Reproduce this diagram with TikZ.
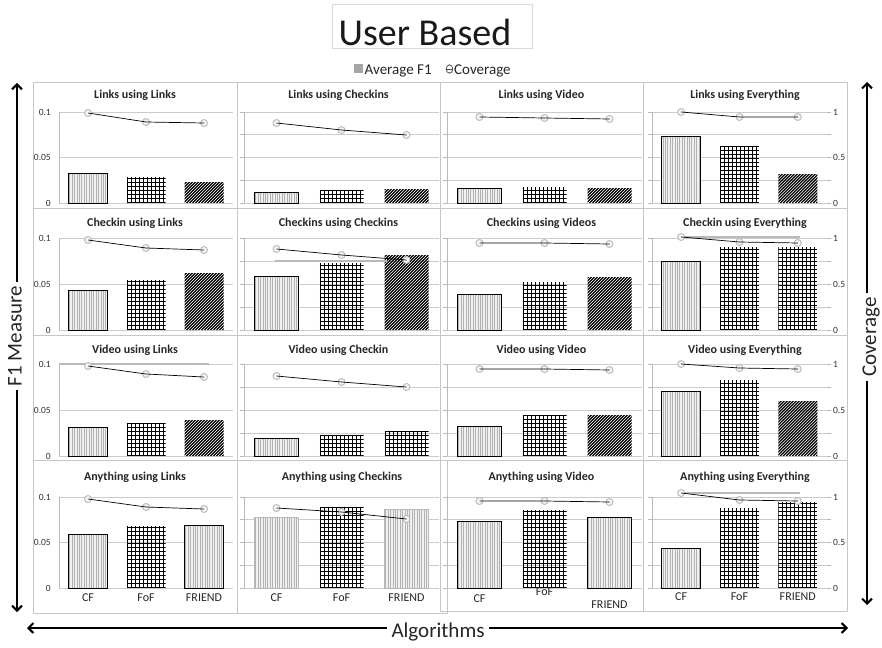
\documentclass[tikz,border=0pt]{standalone}
\usepackage{fontspec}
\setmainfont{Carlito}
\usetikzlibrary{arrows.meta}

\tikzset{
  panelbox/.style={draw=gray!45, line width=0.7pt},
  gridln/.style={draw=gray!40, line width=0.6pt},
  axisln/.style={draw=gray!55, line width=0.6pt},
  vline/.style={draw=gray!60, line width=0.55pt},
  hatchline/.style={draw=black, line width=0.85pt},
  diagline/.style={draw=black, line width=1.25pt},
  covline/.style={draw=black, line width=0.7pt},
  covmark/.style={draw=gray!55, fill=gray!8, line width=0.9pt},
  ghost/.style={draw=gray!55, line width=1.6pt},
  ptitle/.style={font=\fontsize{12}{14}\selectfont\bfseries, text=black!85, inner sep=1pt},
  ticklbl/.style={font=\fontsize{9.5}{11}\selectfont, text=black!80, inner sep=1pt},
  catlbl/.style={font=\fontsize{12}{14}\selectfont, text=black!85, inner sep=1pt},
  bigaxis/.style={line width=2pt, draw=black, -{Straight Barb[length=5pt,width=10pt]}},
  axlbl/.style={font=\fontsize{21}{24}\selectfont, text=black!85, inner sep=4pt},
}

% column geometry: plot left, category step, bar width
\newcommand\setcol[3]{\def\pL{#1}\def\pS{#2}\def\pW{#3}}
% row geometry: plot top, plot bottom
\newcommand\setrow[2]{\def\bT{#1}\def\bB{#2}}
% frame and title of one chart
\newcommand\panel[7]{%
  \draw[panelbox] (#1,#2) rectangle (#3,#4);
  \node[ptitle] (#7) at ({(#1+#3)/2},#5) {#6};}
% horizontal grid with #1 intervals
\newcommand\gridlines[1]{%
  \foreach \k in {0,...,#1}
    \draw[gridln] (\pL,{\bB-(\bB-\bT)*\k/#1}) -- ({\pL+3*\pS},{\bB-(\bB-\bT)*\k/#1});}
% left value axis with ticks
\newcommand\leftticks{%
  \draw[axisln] (\pL,\bT) -- (\pL,\bB);
  \foreach \k in {0,...,4}
    \draw[axisln] ({\pL-4},{\bB-(\bB-\bT)*\k/4}) -- (\pL,{\bB-(\bB-\bT)*\k/4});}
% F1 axis labels of the first column
\newcommand\fonelabels{%
  \draw[axisln] (\pL,\bT) -- (\pL,\bB);
  \node[ticklbl, anchor=east] at ({\pL-7},\bT) {0.1};
  \node[ticklbl, anchor=east] at ({\pL-7},{(\bT+\bB)/2}) {0.05};
  \node[ticklbl, anchor=east] at ({\pL-7},\bB) {0};}
% coverage axis labels of the last column
\newcommand\coverlabels{%
  \foreach \k in {0,...,4}
    \draw[axisln] ({\pL+3*\pS},{\bB-(\bB-\bT)*\k/4}) -- ({\pL+3*\pS+4},{\bB-(\bB-\bT)*\k/4});
  \node[ticklbl, anchor=west] at ({\pL+3*\pS+5},\bT) {1};
  \node[ticklbl, anchor=west] at ({\pL+3*\pS+5},{(\bT+\bB)/2}) {0.5};
  \node[ticklbl, anchor=west] at ({\pL+3*\pS+5},\bB) {0};}

% bar fills, drawn inside (\xa,\bB) -- (\xb,\yt)
\newcommand\barV{%
  \fill[gray!12] (\xa,\bB) rectangle (\xb,\yt);
  \begin{scope}
    \clip (\xa,\bB) rectangle (\xb,\yt);
    \foreach \s in {1.2,3.6,...,46} \draw[vline] ({\xa+\s},\bB) -- ({\xa+\s},\yt);
  \end{scope}
  \draw[black, line width=0.8pt] (\xa,\bB) rectangle (\xb,\yt);}
\newcommand\barVg{%
  \fill[gray!12] (\xa,\bB) rectangle (\xb,\yt);
  \begin{scope}
    \clip (\xa,\bB) rectangle (\xb,\yt);
    \foreach \s in {1.2,3.6,...,46} \draw[vline] ({\xa+\s},\bB) -- ({\xa+\s},\yt);
  \end{scope}
  \draw[gray!55, line width=0.8pt] (\xa,\bB) rectangle (\xb,\yt);}
\newcommand\barG{%
  \begin{scope}
    \clip (\xa,\bB) rectangle (\xb,\yt);
    \foreach \s in {0.5,4.5,...,48} \draw[hatchline] ({\xa+\s},\bB) -- ({\xa+\s},\yt);
    \foreach \s in {0.5,4.5,...,100} \draw[hatchline] (\xa,{\bB-\s}) -- (\xb,{\bB-\s});
  \end{scope}}
\newcommand\barD{%
  \begin{scope}
    \clip (\xa,\bB) rectangle (\xb,\yt);
    \foreach \s in {-100,-97,...,48} \draw[diagline] ({\xa+\s},\bB) -- ({\xa+\s+100},{\bB-100});
  \end{scope}}
% one bar: category, top y, fill kind (V, Vg, G, D)
\newcommand\onebar[3]{%
  \pgfmathsetmacro\xa{\pL+(#1-0.5)*\pS-\pW/2}%
  \pgfmathsetmacro\xb{\xa+\pW}%
  \def\yt{#2}%
  \csname bar#3\endcsname}
\newcommand\threebars[6]{\onebar{1}{#1}{#2}\onebar{2}{#3}{#4}\onebar{3}{#5}{#6}}
% coverage series
\newcommand\coverage[3]{%
  \foreach \c/\yy in {1/#1,2/#2,3/#3}
    \draw[covmark] ({\pL+(\c-0.5)*\pS},\yy) circle[radius=3.5];
  \draw[covline] ({\pL+0.5*\pS},#1) -- ({\pL+1.5*\pS},#2) -- ({\pL+2.5*\pS},#3);}
% category names under the bottom row
\newcommand\catlabels[3]{%
  \node[catlbl] at ({\pL+0.5*\pS},#1) {CF};
  \node[catlbl] at ({\pL+1.5*\pS},#2) {FoF};
  \node[catlbl] at ({\pL+2.5*\pS},#3) {FRIEND};}

\begin{document}
\begin{tikzpicture}[x=1pt,y=-1pt]
\useasboundingbox (0,0) rectangle (882,647);
\fill[white] (0,0) rectangle (882,647);

% heading and legend
\node[draw=gray!30, line width=0.6pt, minimum width=200pt, minimum height=44pt, inner sep=0] (ttlbox) at (432,26) {};
\node[anchor=base, font=\fontsize{38}{40}\selectfont, text=black!90, inner sep=0] (ttl) at (425,46) {User Based};
\fill[gray!70] (354,64) rectangle (363,73);
\node[anchor=base west, font=\fontsize{15}{17}\selectfont, text=black!85, inner sep=0] (lgf) at (364.5,75) {Average F1};
\draw[black!70, line width=0.8pt] (449.5,69) ellipse (3.3 and 4.2);
\draw[black!70, line width=0.8pt] (446.2,69) -- (452.8,69);
\node[anchor=base west, font=\fontsize{15}{17}\selectfont, text=black!85, inner sep=0] (lgc) at (454,75) {Coverage};

% ---------------- row 1 ----------------
\setrow{112}{203}
\setcol{59}{58}{39}
\panel{33}{82}{237}{208}{95}{Links using Links}{t11}
\gridlines{2}\fonelabels
\threebars{173}{V}{177}{G}{182}{D}
\coverage{113}{122}{123}

\setcol{244}{65}{44}
\panel{237}{82}{440}{208}{95}{Links using Checkins}{t12}
\gridlines{4}\leftticks
\threebars{192}{V}{190}{G}{189}{D}
\coverage{123}{130}{135}

\setcol{447}{65}{44}
\panel{440}{82}{643}{208}{95}{Links using Video}{t13}
\gridlines{4}\leftticks
\threebars{188}{V}{187}{G}{188}{D}
\coverage{117}{118}{119}

\setcol{652}{58.3}{39}
\panel{643}{82}{847}{208}{95}{Links using Everything}{t14}
\gridlines{4}\leftticks\coverlabels
\threebars{136}{V}{146}{G}{174}{D}
\coverage{112}{117}{117}

% ---------------- row 2 ----------------
\setrow{238}{330}
\setcol{59}{58}{39}
\panel{33}{208}{237}{335}{223}{Checkin using Links}{t21}
\gridlines{2}\fonelabels
\threebars{290}{V}{280}{G}{273}{D}
\coverage{240}{248}{250}

\setcol{244}{65}{44}
\panel{237}{208}{440}{335}{223}{Checkins using Checkins}{t22}
\gridlines{4}\leftticks
\threebars{276}{V}{263}{G}{255}{D}
\draw[ghost] (275,261) -- (387,261);
\coverage{249}{255}{260}

\setcol{447}{65}{44}
\panel{440}{208}{643}{335}{223}{Checkins using Videos}{t23}
\gridlines{4}\leftticks
\threebars{294}{V}{282}{G}{277}{D}
\coverage{243}{243}{244}

\setcol{652}{58.3}{39}
\panel{643}{208}{847}{335}{223}{Checkin using Everything}{t24}
\gridlines{4}\leftticks\coverlabels
\threebars{261}{V}{247}{G}{247}{G}
\draw[ghost] (681,237) -- (800,237);
\coverage{237}{242}{243}

% ---------------- row 3 ----------------
\setrow{364}{456}
\setcol{59}{58}{39}
\panel{33}{335}{237}{460}{350}{Video using Links}{t31}
\gridlines{2}\fonelabels
\threebars{427}{V}{423}{G}{420}{D}
\draw[ghost] (59,364) -- (209,364);
\coverage{366}{374}{377}

\setcol{244}{65}{44}
\panel{237}{335}{440}{460}{350}{Video using Checkin}{t32}
\gridlines{4}\leftticks
\threebars{438}{V}{435}{G}{431}{G}
\coverage{376}{382}{387}

\setcol{447}{65}{44}
\panel{440}{335}{643}{460}{350}{Video using Video}{t33}
\gridlines{4}\leftticks
\threebars{426}{V}{415}{G}{415}{D}
\coverage{369}{369}{370}

\setcol{652}{58.3}{39}
\panel{643}{335}{847}{460}{350}{Video using Everything}{t34}
\gridlines{4}\leftticks\coverlabels
\threebars{391}{V}{380}{G}{401}{D}
\coverage{364}{368}{369}

% ---------------- row 4 ----------------
\setrow{497}{588}
\setcol{59}{58}{39}
\panel{33}{460}{237}{613}{477}{Anything using Links}{t41}
\gridlines{2}\fonelabels
\threebars{534}{V}{526}{G}{525}{V}
\coverage{499}{507}{509}
\catlabels{598}{598}{598}

\setcol{244}{65}{44}
\panel{237}{460}{447}{613}{477}{Anything using Checkins}{t42}
\gridlines{4}\leftticks
\threebars{517}{Vg}{507}{G}{509}{Vg}
\coverage{508}{512}{519}
\catlabels{598}{598}{598}

\setcol{447}{65}{44}
\panel{440}{460}{643}{611}{477}{Anything using Video}{t43}
\gridlines{4}\leftticks
\threebars{521}{V}{510}{G}{517}{V}
\coverage{501}{501}{502}
\catlabels{599}{592}{605}

\setcol{652}{58.3}{39}
\panel{643}{460}{847}{611}{477}{Anything using Everything}{t44}
\gridlines{4}\leftticks\coverlabels
\threebars{548}{V}{508}{G}{502}{G}
\draw[ghost] (680,493) -- (800,493);
\coverage{493}{500}{501}
\catlabels{597}{597}{597}

% ---------------- outer axes ----------------
\coordinate (ltop) at (17,83);
\coordinate (lbot) at (17,612);
\node[axlbl, rotate=90] (f1lbl) at (15,336) {F1 Measure};
\draw[bigaxis] (f1lbl.east -| ltop) -- (ltop);
\draw[bigaxis] (f1lbl.west -| lbot) -- (lbot);

\coordinate (rtop) at (867,82);
\coordinate (rbot) at (867,605);
\node[axlbl, rotate=90] (covlbl) at (871,337) {Coverage};
\draw[bigaxis] (covlbl.east -| rtop) -- (rtop);
\draw[bigaxis] (covlbl.west -| rbot) -- (rbot);

\coordinate (bleft) at (27,628);
\coordinate (bright) at (848,628);
\node[axlbl] (alglbl) at (438,632) {Algorithms};
\draw[bigaxis] (alglbl.west |- bleft) -- (bleft);
\draw[bigaxis] (alglbl.east |- bright) -- (bright);
\end{tikzpicture}
\end{document}
